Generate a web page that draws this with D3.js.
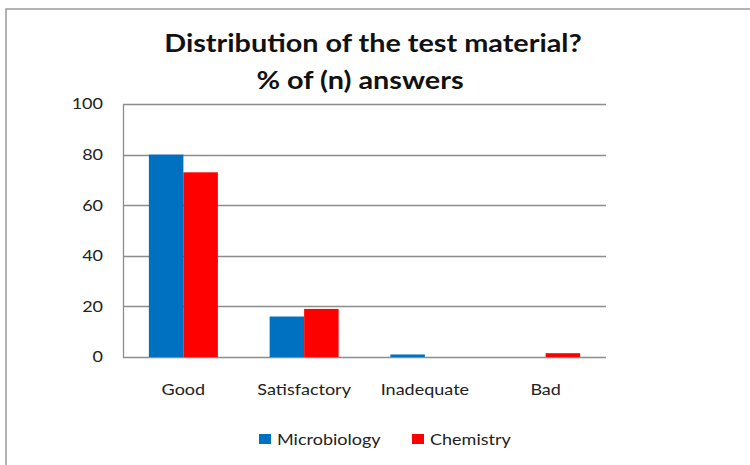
<!DOCTYPE html>
<html>
<head>
<meta charset="utf-8">
<script src="https://cdn.jsdelivr.net/npm/d3@7"></script>
<style>
  body { margin: 0; background: #fff; }
  svg { display: block; }
</style>
</head>
<body>
<div id="chart"></div>
<script>
var categories = ["Good", "Satisfactory", "Inadequate", "Bad"];
var seriesNames = ["Microbiology", "Chemistry"];
var microbiology = [80, 16, 1, 0];
var chemistry = [73, 19, 0, 1.5];
var yTicks = [0, 20, 40, 60, 80, 100];
var colors = ["#0070C0", "#FF0000"];

var W = 750, H = 465;
var FONT = 'Lato, sans-serif';
var STRETCH = 1.2; // the source picture is a little wider than tall

var svg = d3.select('#chart').append('svg')
    .attr('width', W)
    .attr('height', H);

// widen a text node horizontally, keeping its anchor
function stretch(sel) {
    sel.each(function() {
        var len = this.getComputedTextLength();
        d3.select(this)
            .attr('textLength', len * STRETCH)
            .attr('lengthAdjust', 'spacingAndGlyphs');
    });
}

// outer chart frame (runs off the right and bottom edges)
svg.append('rect')
    .attr('x', 6).attr('y', 9)
    .attr('width', 760).attr('height', 470)
    .attr('fill', '#fff')
    .attr('stroke', '#9a9a9a')
    .attr('stroke-width', 1.5);

var margin = {top: 104, left: 123, right: 144, bottom: 108};
var width = W - margin.left - margin.right;
var height = H - margin.top - margin.bottom;

var graph = svg.append('g')
    .attr('transform', 'translate(' + margin.left + ',' + margin.top + ')');

var x0 = d3.scaleBand()
    .domain(categories)
    .range([0, width]);

// gap width 150% -> bars occupy 2/(2+1.5) of the band
var groupW = x0.bandwidth() * 2 / 3.5;
var x1 = d3.scaleBand()
    .domain(seriesNames)
    .range([(x0.bandwidth() - groupW) / 2, (x0.bandwidth() + groupW) / 2]);

var y = d3.scaleLinear()
    .domain([0, 100])
    .range([height, 0]);

// gridlines
graph.append('g')
    .selectAll('line')
    .data(yTicks)
    .enter()
    .append('line')
    .attr('x1', 0).attr('x2', width)
    .attr('y1', function(d) { return Math.round(y(d)) + 0.5; })
    .attr('y2', function(d) { return Math.round(y(d)) + 0.5; })
    .attr('stroke', '#8c8c8c')
    .attr('stroke-width', 1.3);

var rows = categories.map(function(c, i) {
    return [
        {cat: c, name: seriesNames[0], value: microbiology[i]},
        {cat: c, name: seriesNames[1], value: chemistry[i]}
    ];
});

var groups = graph.selectAll('g.cat')
    .data(rows)
    .enter()
    .append('g')
    .classed('cat', true)
    .attr('transform', function(d) { return 'translate(' + x0(d[0].cat) + ',0)'; });

groups.selectAll('rect')
    .data(function(d) { return d.filter(function(e) { return e.value > 0; }); })
    .enter()
    .append('rect')
    .attr('x', function(d) { return x1(d.name); })
    .attr('width', x1.bandwidth())
    .attr('y', function(d) { return y(d.value); })
    .attr('height', function(d) { return height - y(d.value); })
    .attr('fill', function(d) { return colors[seriesNames.indexOf(d.name)]; });

// axes
var yAxis = d3.axisLeft(y)
    .tickValues(yTicks)
    .tickSize(0)
    .tickPadding(20);

var yg = graph.append('g').call(yAxis);
yg.select('.domain')
    .attr('stroke', '#8c8c8c')
    .attr('stroke-width', 1.3);
yg.selectAll('text')
    .attr('font-family', FONT)
    .attr('font-size', 15)
    .attr('fill', '#222')
    .call(stretch);

var xAxis = d3.axisBottom(x0)
    .tickSize(0)
    .tickPadding(27);

var xg = graph.append('g')
    .attr('transform', 'translate(0,' + (Math.round(height) + 0.5) + ')')
    .call(xAxis);
xg.select('.domain').remove();
xg.selectAll('text')
    .attr('font-family', FONT)
    .attr('font-size', 15)
    .attr('fill', '#222')
    .call(stretch);

// title
var title = svg.append('text')
    .attr('text-anchor', 'middle')
    .attr('font-family', FONT)
    .attr('font-weight', 'bold')
    .attr('font-size', 24)
    .attr('fill', '#111');
title.append('tspan').attr('x', 373).attr('y', 52).text('Distribution of the test material?');
title.append('tspan').attr('x', 360).attr('y', 89).text('% of (n) answers');
title.selectAll('tspan').call(stretch);

// legend
var legendX = [259, 412];
var legend = svg.append('g').selectAll('g')
    .data(seriesNames)
    .enter()
    .append('g')
    .attr('transform', function(d, i) { return 'translate(' + legendX[i] + ',434)'; });
legend.append('rect')
    .attr('width', 12).attr('height', 10)
    .attr('fill', function(d, i) { return colors[i]; });
legend.append('text')
    .attr('x', 18).attr('y', 10.5)
    .attr('font-family', FONT)
    .attr('font-size', 15)
    .attr('fill', '#222')
    .text(function(d) { return d; })
    .call(stretch);
</script>
</body>
</html>
